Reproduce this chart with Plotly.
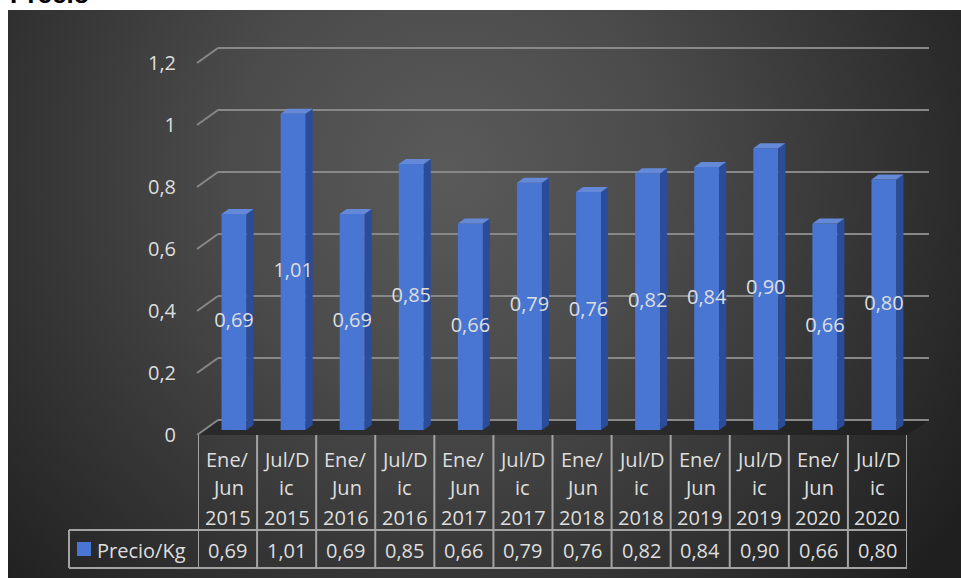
import base64
import plotly.graph_objects as go

W, H = 961, 578

# ---- data -------------------------------------------------------------
periods = ["Ene/Jun 2015", "Jul/Dic 2015", "Ene/Jun 2016", "Jul/Dic 2016",
           "Ene/Jun 2017", "Jul/Dic 2017", "Ene/Jun 2018", "Jul/Dic 2018",
           "Ene/Jun 2019", "Jul/Dic 2019", "Ene/Jun 2020", "Jul/Dic 2020"]
# period labels as they wrap inside the narrow table cells
header_lines = [["Ene/", "Jun", "2015"], ["Jul/D", "ic", "2015"],
                ["Ene/", "Jun", "2016"], ["Jul/D", "ic", "2016"],
                ["Ene/", "Jun", "2017"], ["Jul/D", "ic", "2017"],
                ["Ene/", "Jun", "2018"], ["Jul/D", "ic", "2018"],
                ["Ene/", "Jun", "2019"], ["Jul/D", "ic", "2019"],
                ["Ene/", "Jun", "2020"], ["Jul/D", "ic", "2020"]]
precio_kg = [0.69, 1.01, 0.69, 0.85, 0.66, 0.79, 0.76, 0.82, 0.84, 0.90, 0.66, 0.80]
y_tick_vals = [0, 0.2, 0.4, 0.6, 0.8, 1.0, 1.2]
y_tick_text = ["0", "0,2", "0,4", "0,6", "0,8", "1", "1,2"]
series_name = "Precio/Kg"
chart_title = "Precio"


def fmt(v):
    return f"{v:.2f}".replace(".", ",")


# ---- geometry (pixels) ------------------------------------------------
def fx(p):
    return p / W


def fy(p):
    return 1 - p / H


Y_MAX = 1.2
Y_TOP = 1.3                        # axis headroom so the top gridline is drawn
N = len(precio_kg)
COL_L, COL_R = 198, 907            # data-table columns / category axis
BAR_BASE, BAR_SCALE = 430, 313     # bars plane
GRID_L, GRID_R = 218, 929          # back wall
GRID_BASE, GRID_SCALE = 420, 310
FRONT_BASE = 435                   # front edge where tick labels sit
HEAD_TOP, ROW_SEP, TABLE_BOT = 435, 530, 568
LEG_L = 69

col_w = (COL_R - COL_L) / N
bar_offset = -6 / col_w
bar_width = 25 / col_w
dx = 7 / col_w
dy = 5 / BAR_SCALE

FRONT = "#4876D2"
SIDE = "#2B4C99"
TOP = "#6389D8"
TXT = "#dedede"
GRIDC = "#888888"
BORDER = "#a3a3a3"
FONT = "Open Sans"

fig = go.Figure()

# placeholder traces so the grid and label subplots exist
fig.add_trace(go.Scatter(x=[0], y=[0], mode="markers", marker=dict(opacity=0),
                         hoverinfo="skip", showlegend=False, xaxis="x", yaxis="y"))
fig.add_trace(go.Scatter(x=[0], y=[0], mode="markers", marker=dict(opacity=0),
                         hoverinfo="skip", showlegend=False, xaxis="x3", yaxis="y3"))

# front faces
fig.add_trace(go.Bar(x=list(range(N)), y=precio_kg, offset=bar_offset, width=bar_width,
                     marker=dict(color=FRONT, line=dict(width=0)), name=series_name,
                     showlegend=False, xaxis="x2", yaxis="y2", hoverinfo="skip"))

# side and top faces for the 3-D look
sx, sy, tx, ty = [], [], [], []
for i, v in enumerate(precio_kg):
    xl = i + bar_offset
    xr = xl + bar_width
    sx += [xr, xr + dx, xr + dx, xr, xr, None]
    sy += [0, dy, v + dy, v, 0, None]
    tx += [xl, xr, xr + dx, xl + dx, xl, None]
    ty += [v, v, v + dy, v + dy, v, None]
fig.add_trace(go.Scatter(x=sx, y=sy, mode="lines", fill="toself", fillcolor=SIDE,
                         line=dict(width=0), hoverinfo="skip", showlegend=False,
                         xaxis="x2", yaxis="y2"))
fig.add_trace(go.Scatter(x=tx, y=ty, mode="lines", fill="toself", fillcolor=TOP,
                         line=dict(width=0), hoverinfo="skip", showlegend=False,
                         xaxis="x2", yaxis="y2"))

# value labels in the middle of each bar
fig.add_trace(go.Scatter(x=[i + bar_offset + bar_width / 2 for i in range(N)],
                         y=[v / 2 for v in precio_kg],
                         text=[fmt(v) for v in precio_kg], mode="text",
                         textfont=dict(family=FONT, size=20, color=TXT),
                         cliponaxis=False, hoverinfo="skip", showlegend=False,
                         xaxis="x2", yaxis="y2"))

shapes = []
# floor
shapes.append(dict(type="path", xref="paper", yref="paper", layer="below",
                   path=(f"M{fx(COL_L - 1)},{fy(FRONT_BASE)} L{fx(COL_R)},{fy(FRONT_BASE)} "
                         f"L{fx(GRID_R)},{fy(GRID_BASE)} L{fx(GRID_L)},{fy(GRID_BASE)} Z"),
                   fillcolor="rgba(25,25,25,0.55)", line=dict(width=0)))
# short diagonals joining the front edge to each back-wall gridline
depth = (FRONT_BASE - GRID_BASE) / GRID_SCALE
for v in y_tick_vals:
    shapes.append(dict(type="line", xref="paper", yref="y3", layer="below",
                       x0=fx(197), y0=v, x1=fx(GRID_L), y1=v + depth,
                       line=dict(color=GRIDC, width=2)))

# data table borders
for k in range(N + 1):
    shapes.append(dict(type="line", xref="x2", yref="paper", x0=k - 0.5, x1=k - 0.5,
                       y0=fy(HEAD_TOP), y1=fy(TABLE_BOT), line=dict(color=BORDER, width=2)))
for yy in (ROW_SEP, TABLE_BOT):
    shapes.append(dict(type="line", xref="x2", yref="paper", x0=-0.5, x1=N - 0.5,
                       y0=fy(yy), y1=fy(yy), line=dict(color=BORDER, width=2)))
    shapes.append(dict(type="line", xref="paper", yref="paper", x0=fx(LEG_L), x1=fx(COL_L),
                       y0=fy(yy), y1=fy(yy), line=dict(color=BORDER, width=2)))
shapes.append(dict(type="line", xref="paper", yref="paper", x0=fx(LEG_L), x1=fx(LEG_L),
                   y0=fy(ROW_SEP), y1=fy(TABLE_BOT), line=dict(color=BORDER, width=2)))
# legend key
shapes.append(dict(type="rect", xref="paper", yref="paper", x0=fx(77), x1=fx(91),
                   y0=fy(556), y1=fy(542), fillcolor=FRONT, line=dict(width=0)))

annotations = []
line_y = [459, 488, 517]
for i, lines in enumerate(header_lines):
    for j, t in enumerate(lines):
        annotations.append(dict(x=i, xref="x2", y=fy(line_y[j]), yref="paper", text=t,
                                showarrow=False, xanchor="center", yanchor="middle",
                                font=dict(family=FONT, size=20, color=TXT)))
    annotations.append(dict(x=i, xref="x2", y=fy(550), yref="paper", text=fmt(precio_kg[i]),
                            showarrow=False, xanchor="center", yanchor="middle",
                            font=dict(family=FONT, size=20, color=TXT)))
annotations.append(dict(x=fx(95), xref="paper", y=fy(550), yref="paper", text=series_name,
                        showarrow=False, xanchor="left", yanchor="middle",
                        font=dict(family=FONT, size=20, color=TXT)))
annotations.append(dict(x=fx(8), xref="paper", y=fy(11), yref="paper", text=f"<b>{chart_title}</b>",
                        showarrow=False, xanchor="left", yanchor="bottom",
                        font=dict(family="Liberation Sans", size=26, color="#000000")))

# dark radial background of the chart area
bg_w, bg_h = W - 8, H - 10
svg = f"""<svg xmlns="http://www.w3.org/2000/svg" width="{bg_w}" height="{bg_h}" viewBox="0 0 {bg_w} {bg_h}" preserveAspectRatio="none">
<defs><radialGradient id="g" gradientUnits="userSpaceOnUse" cx="440" cy="160" r="620">
<stop offset="0" stop-color="#5a5a5a"/><stop offset="0.35" stop-color="#4b4b4b"/>
<stop offset="1" stop-color="#1f1f1f"/></radialGradient></defs>
<rect width="{bg_w}" height="{bg_h}" fill="url(#g)"/></svg>"""
bg_src = "data:image/svg+xml;base64," + base64.b64encode(svg.encode()).decode()

fig.update_layout(
    template="none",
    width=W, height=H, margin=dict(l=0, r=0, t=0, b=0, pad=0, autoexpand=False),
    autosize=False,
    paper_bgcolor="#ffffff", plot_bgcolor="rgba(0,0,0,0)",
    font=dict(family=FONT, color=TXT), showlegend=False,
    images=[dict(source=bg_src, xref="paper", yref="paper", x=fx(8), y=1 - 10 / H,
                 sizex=bg_w / W, sizey=bg_h / H, sizing="stretch", layer="below",
                 xanchor="left", yanchor="top")],
    # back wall gridlines
    xaxis=dict(domain=[fx(GRID_L), fx(GRID_R)], range=[0, 1], visible=False, anchor="y",
               automargin=False),
    yaxis=dict(domain=[fy(GRID_BASE), fy(GRID_BASE - GRID_SCALE * Y_TOP)], range=[0, Y_TOP],
               anchor="x", tickvals=y_tick_vals, showticklabels=False, ticks="",
               showgrid=True, gridcolor=GRIDC, gridwidth=2, zeroline=True,
               zerolinecolor=GRIDC, zerolinewidth=2, showline=False, automargin=False),
    # bars
    xaxis2=dict(domain=[fx(COL_L), fx(COL_R)], range=[-0.5, N - 0.5], visible=False,
                anchor="y2", automargin=False),
    yaxis2=dict(domain=[fy(BAR_BASE), fy(BAR_BASE - BAR_SCALE * Y_MAX)], range=[0, Y_MAX],
                visible=False, anchor="x2", automargin=False),
    # front edge tick labels
    xaxis3=dict(domain=[fx(197), fx(200)], range=[0, 1], visible=False, anchor="y3",
                automargin=False),
    yaxis3=dict(domain=[fy(FRONT_BASE), fy(FRONT_BASE - GRID_SCALE * Y_TOP)], range=[0, Y_TOP],
                anchor="x3", tickvals=y_tick_vals, ticktext=y_tick_text, ticks="",
                showgrid=False, zeroline=False, showline=False, ticklabelstandoff=20,
                automargin=False, tickfont=dict(family=FONT, size=20, color=TXT)),
    shapes=shapes, annotations=annotations,
)

fig.write_html("out.html")
